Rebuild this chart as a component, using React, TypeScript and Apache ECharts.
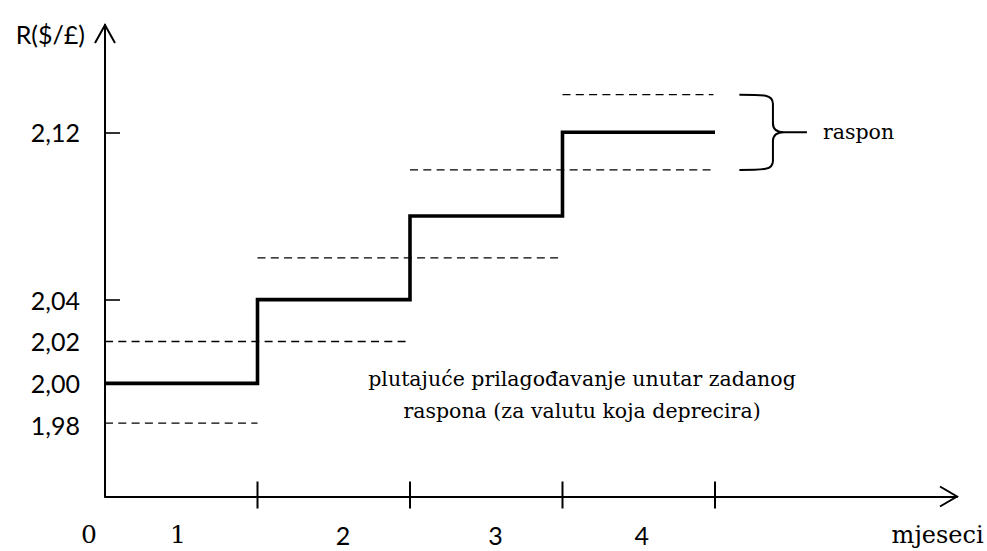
import React, { useEffect, useRef } from 'react';
import * as echarts from 'echarts';

// Step path of the exchange rate (month boundary -> level)
const months = [0, 1, 2, 3, 4];
const rateLevels = [2.0, 2.04, 2.08, 2.12, 2.12];

// Dashed band limits (level, start month, end month)
const bandValues = [1.981, 2.02, 2.06, 2.102, 2.138];
const bandFrom = [0, 0, 1, 2, 3];
const bandTo = [1, 2, 2.99, 3.99, 3.99];

// Axis ticks / labels
const yLabelValues = [1.98, 2.0, 2.02, 2.04, 2.12];
const yTickValues = [2.04, 2.12];
const monthTicks = [1, 2, 3, 4];
const xLabelTexts = ['0', '1', '2', '3', '4', 'mjeseci'];
const xLabelValues = [0, 0.479, 1.56, 2.56, 3.52, 5.46];
const xLabelStyles = ['zero', 'digit', 'sans', 'sans', 'sans', 'serif'];

const yAxisName = 'R($/£)';
const noteText = 'plutajuće prilagođavanje unutar zadanog\nraspona (za valutu koja deprecira)';
const noteAt = [3.128, 1.9944];
const braceLabel = 'raspon';
const braceLabelAt = [4.708, 2.12];
const braceSpec = [4.16, 4.38, 4.603, 2.138, 2.102, 2.12];

const X_MIN = 0;
const X_MAX = 5.587;
const Y_MIN = 1.9459;
const Y_MAX = 2.1713;

const SERIF = 'DejaVu Serif';
const SANS = 'Lato';

export default function App() {
  const ref = useRef<HTMLDivElement>(null);

  useEffect(() => {
    if (!ref.current) return;
    const chart = echarts.init(ref.current, null, { renderer: 'svg' });

    const bandSeries = bandValues.map((v, i) => ({
      type: 'line',
      name: 'band' + i,
      data: [
        [bandFrom[i], v],
        [bandTo[i], v],
      ],
      symbol: 'none',
      silent: true,
      lineStyle: { color: '#000', width: 1.3, type: [8, 5.3] },
      z: 2,
    }));

    const option: any = {
      animation: false,
      backgroundColor: '#fff',
      grid: {
        left: 105,
        top: 25,
        right: 30,
        bottom: 54.5,
        containLabel: false,
        outerBoundsMode: 'none',
      },
      xAxis: {
        type: 'value',
        min: X_MIN,
        max: X_MAX,
        splitLine: { show: false },
        axisLine: { show: true, onZero: false, lineStyle: { color: '#000', width: 2 } },
        axisTick: { show: false },
        axisLabel: {
          customValues: xLabelValues,
          margin: 23,
          color: '#000',
          formatter: (v: number) => {
            const i = xLabelValues.indexOf(v);
            if (i < 0) return '';
            return '{' + xLabelStyles[i] + '|' + xLabelTexts[i] + '}';
          },
          rich: {
            serif: { fontFamily: SERIF, fontSize: 24, lineHeight: 30, color: '#000' },
            digit: { fontFamily: SERIF, fontSize: 25, lineHeight: 30, color: '#000' },
            zero: {
              fontFamily: SERIF,
              fontSize: 25,
              lineHeight: 30,
              color: '#000',
              padding: [0, 32, 0, 0],
            },
            sans: { fontFamily: SANS, fontSize: 25, lineHeight: 30, color: '#000' },
          },
        },
      },
      yAxis: {
        type: 'value',
        min: Y_MIN,
        max: Y_MAX,
        name: yAxisName,
        nameLocation: 'end',
        nameGap: -9,
        nameTextStyle: {
          fontFamily: SANS,
          fontSize: 25,
          color: '#000',
          align: 'right',
          verticalAlign: 'middle',
          padding: [0, 20, 0, 0],
        },
        splitLine: { show: false },
        axisLine: { show: true, onZero: false, lineStyle: { color: '#000', width: 2 } },
        axisTick: {
          show: true,
          inside: true,
          customValues: yTickValues,
          length: 15,
          lineStyle: { color: '#000', width: 1.6 },
        },
        axisLabel: {
          customValues: yLabelValues,
          margin: 25,
          color: '#000',
          fontFamily: SANS,
          fontSize: 25,
          formatter: (v: number) => v.toFixed(2).replace('.', ','),
        },
      },
      series: [
        ...bandSeries,
        {
          type: 'line',
          name: 'rate',
          step: 'end',
          data: months.map((m, i) => [m, rateLevels[i]]),
          symbol: 'none',
          silent: true,
          lineStyle: { color: '#000', width: 3.6, join: 'miter', cap: 'butt' },
          z: 3,
        },
        {
          type: 'custom',
          name: 'monthTicks',
          silent: true,
          clip: false,
          data: monthTicks.map((m) => [m, Y_MIN]),
          renderItem: (params: any, api: any) => {
            const p = api.coord([api.value(0), api.value(1)]);
            return {
              type: 'line',
              shape: { x1: p[0], y1: p[1] - 15, x2: p[0], y2: p[1] + 12 },
              style: { stroke: '#000', lineWidth: 2 },
            };
          },
          z: 4,
        },
        {
          type: 'custom',
          name: 'arrows',
          silent: true,
          clip: false,
          data: [
            [X_MAX, Y_MIN, 0],
            [X_MIN, Y_MAX, 1],
          ],
          renderItem: (params: any, api: any) => {
            const p = api.coord([api.value(0), api.value(1)]);
            const vertical = api.value(2) === 1;
            const pts = vertical
              ? [
                  [p[0] - 10, p[1] + 18],
                  [p[0], p[1]],
                  [p[0] + 10, p[1] + 18],
                ]
              : [
                  [p[0] - 17, p[1] - 10],
                  [p[0], p[1]],
                  [p[0] - 17, p[1] + 10],
                ];
            return {
              type: 'polyline',
              shape: { points: pts },
              style: { stroke: '#000', lineWidth: 2, fill: 'none' },
            };
          },
          z: 4,
        },
        {
          type: 'custom',
          name: 'brace',
          silent: true,
          clip: false,
          data: [braceSpec],
          renderItem: (params: any, api: any) => {
            const a = api.coord([api.value(0), api.value(3)]);
            const b = api.coord([api.value(1), api.value(4)]);
            const t = api.coord([api.value(2), api.value(5)]);
            const X0 = a[0];
            const XM = b[0];
            const XT = t[0];
            const YT = a[1];
            const YB = b[1];
            const YM = t[1];
            const r = 9;
            const d =
              `M ${X0} ${YT} C ${X0 + (XM - X0) * 0.75} ${YT} ${XM} ${YT} ${XM} ${YT + r} ` +
              `L ${XM} ${YM - r} C ${XM} ${YM - 3} ${XM + 4} ${YM} ${XM + 11} ${YM} L ${XT} ${YM} ` +
              `M ${X0} ${YB} C ${X0 + (XM - X0) * 0.75} ${YB} ${XM} ${YB} ${XM} ${YB - r} ` +
              `L ${XM} ${YM + r} C ${XM} ${YM + 3} ${XM + 4} ${YM} ${XM + 11} ${YM}`;
            return {
              type: 'path',
              shape: { pathData: d },
              style: { stroke: '#000', lineWidth: 2, fill: 'none' },
            };
          },
          z: 4,
        },
        {
          type: 'custom',
          name: 'notes',
          silent: true,
          clip: false,
          data: [
            [noteAt[0], noteAt[1], 0],
            [braceLabelAt[0], braceLabelAt[1], 1],
          ],
          renderItem: (params: any, api: any) => {
            const p = api.coord([api.value(0), api.value(1)]);
            const isBrace = api.value(2) === 1;
            return {
              type: 'text',
              x: p[0],
              y: p[1],
              style: {
                text: isBrace ? braceLabel : noteText,
                fill: '#000',
                fontFamily: SERIF,
                fontSize: 20.5,
                lineHeight: 32,
                align: isBrace ? 'left' : 'center',
                verticalAlign: 'middle',
              },
            };
          },
          z: 5,
        },
      ],
    };

    chart.setOption(option);
    return () => {
      chart.dispose();
    };
  }, []);

  return (
    <div
      ref={ref}
      style={{ position: 'absolute', left: 0, top: 0, width: 987, height: 551, background: '#fff' }}
    />
  );
}
